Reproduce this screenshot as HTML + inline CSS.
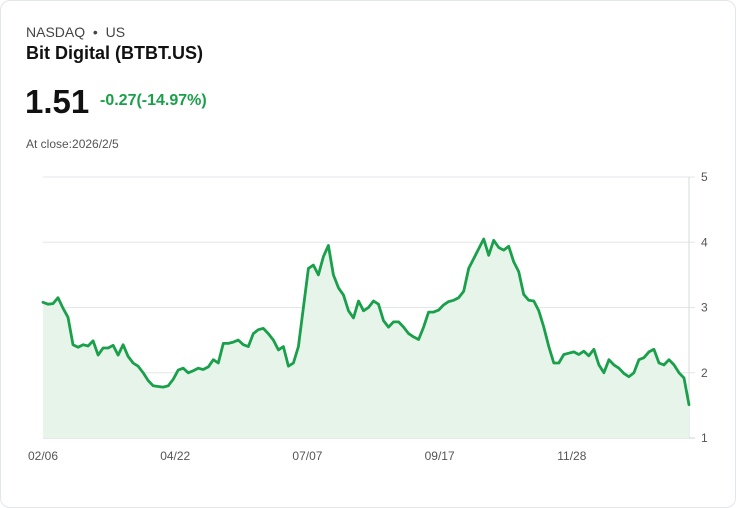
<!DOCTYPE html>
<html><head><meta charset="utf-8"><style>
body{margin:0;background:#fff;font-family:"Liberation Sans",sans-serif;}
.card{position:absolute;left:0;top:0;width:734px;height:506px;border:1px solid #e3e6ea;border-radius:10px;background:#fff;}
.t{position:absolute;white-space:nowrap;}
</style></head><body>
<div class="card">
<div class="t" style="left:25px;top:23px;font-size:14px;color:#444;">NASDAQ &nbsp;•&nbsp; US</div>
<div class="t" style="left:25px;top:42px;font-size:18px;font-weight:bold;color:#111;">Bit Digital (BTBT.US)</div>
<div class="t" style="left:24px;top:82px;font-size:33px;font-weight:bold;color:#111;">1.51</div>
<div class="t" style="left:99px;top:91px;font-size:16px;font-weight:bold;color:#1a9f4a;">-0.27(-14.97%)</div>
<div class="t" style="left:25px;top:136px;font-size:12px;color:#555;">At close:2026/2/5</div>
<svg id="chart" width="736" height="508" style="position:absolute;left:-1px;top:-1px;"></svg>
</div>
<script>
const prices=[3.08,3.05,3.06,3.15,2.99,2.85,2.43,2.39,2.43,2.41,2.49,2.27,2.38,2.38,2.42,2.27,2.43,2.25,2.15,2.10,2.00,1.88,1.80,1.79,1.78,1.80,1.90,2.04,2.07,2.00,2.03,2.07,2.05,2.09,2.20,2.15,2.45,2.45,2.47,2.50,2.43,2.40,2.60,2.66,2.68,2.60,2.50,2.35,2.40,2.10,2.15,2.40,3.00,3.60,3.65,3.50,3.78,3.95,3.50,3.30,3.19,2.95,2.84,3.10,2.95,3.00,3.10,3.05,2.80,2.70,2.78,2.78,2.70,2.60,2.55,2.51,2.70,2.93,2.93,2.96,3.04,3.09,3.11,3.15,3.25,3.60,3.75,3.90,4.05,3.80,4.03,3.92,3.88,3.94,3.70,3.55,3.20,3.11,3.10,2.95,2.70,2.40,2.15,2.15,2.28,2.30,2.32,2.28,2.33,2.26,2.36,2.12,2.00,2.20,2.12,2.07,1.99,1.94,2.00,2.20,2.23,2.32,2.36,2.15,2.12,2.20,2.12,2.00,1.92,1.51];
const yTicks=[1,2,3,4,5];
const xLabels=["02/06","04/22","07/07","09/17","11/28"];
const xLabelIdx=[0,26.4,52.8,79.2,105.6];
const NS="http://www.w3.org/2000/svg",svg=document.getElementById('chart');
const L=43,R=689,T=177,B=438;
const xs=i=>L+(R-L)*i/(prices.length-1);
const ys=v=>B-(v-1)/(5-1)*(B-T);
function mk(tag,a){const e=document.createElementNS(NS,tag);for(const k in a)e.setAttribute(k,a[k]);svg.appendChild(e);return e;}
yTicks.forEach(v=>{
 const g=mk('line',{x1:L,x2:R+6,y1:ys(v),y2:ys(v),stroke:v===1?'#cfd3d8':'#e4e6e9','stroke-width':1});
 
 
 const t=mk('text',{x:R+12,y:ys(v)+4,'font-size':12,fill:'#555','font-family':'Liberation Sans, sans-serif'});
 t.textContent=v;
 
 
});
const ax=mk('line',{x1:R,x2:R,y1:T,y2:B,stroke:'#d5d8dc','stroke-width':1});


xLabels.forEach((s,k)=>{
 const t=mk('text',{x:xs(xLabelIdx[k]),y:460,'font-size':12,fill:'#555','text-anchor':'middle','font-family':'Liberation Sans, sans-serif'});
 t.textContent=s;
 
 
});
let d=prices.map((v,i)=>(i?'L':'M')+xs(i).toFixed(1)+' '+ys(v).toFixed(1)).join(' ');
const area=mk('path',{d:d+` L${R} ${B} L${L} ${B} Z`,fill:'#e6f4ea'});


const line=mk('path',{d:d,fill:'none',stroke:'#1a9f4a','stroke-width':2.8,'stroke-linejoin':'round','stroke-linecap':'round'});


</script>
</body></html>
